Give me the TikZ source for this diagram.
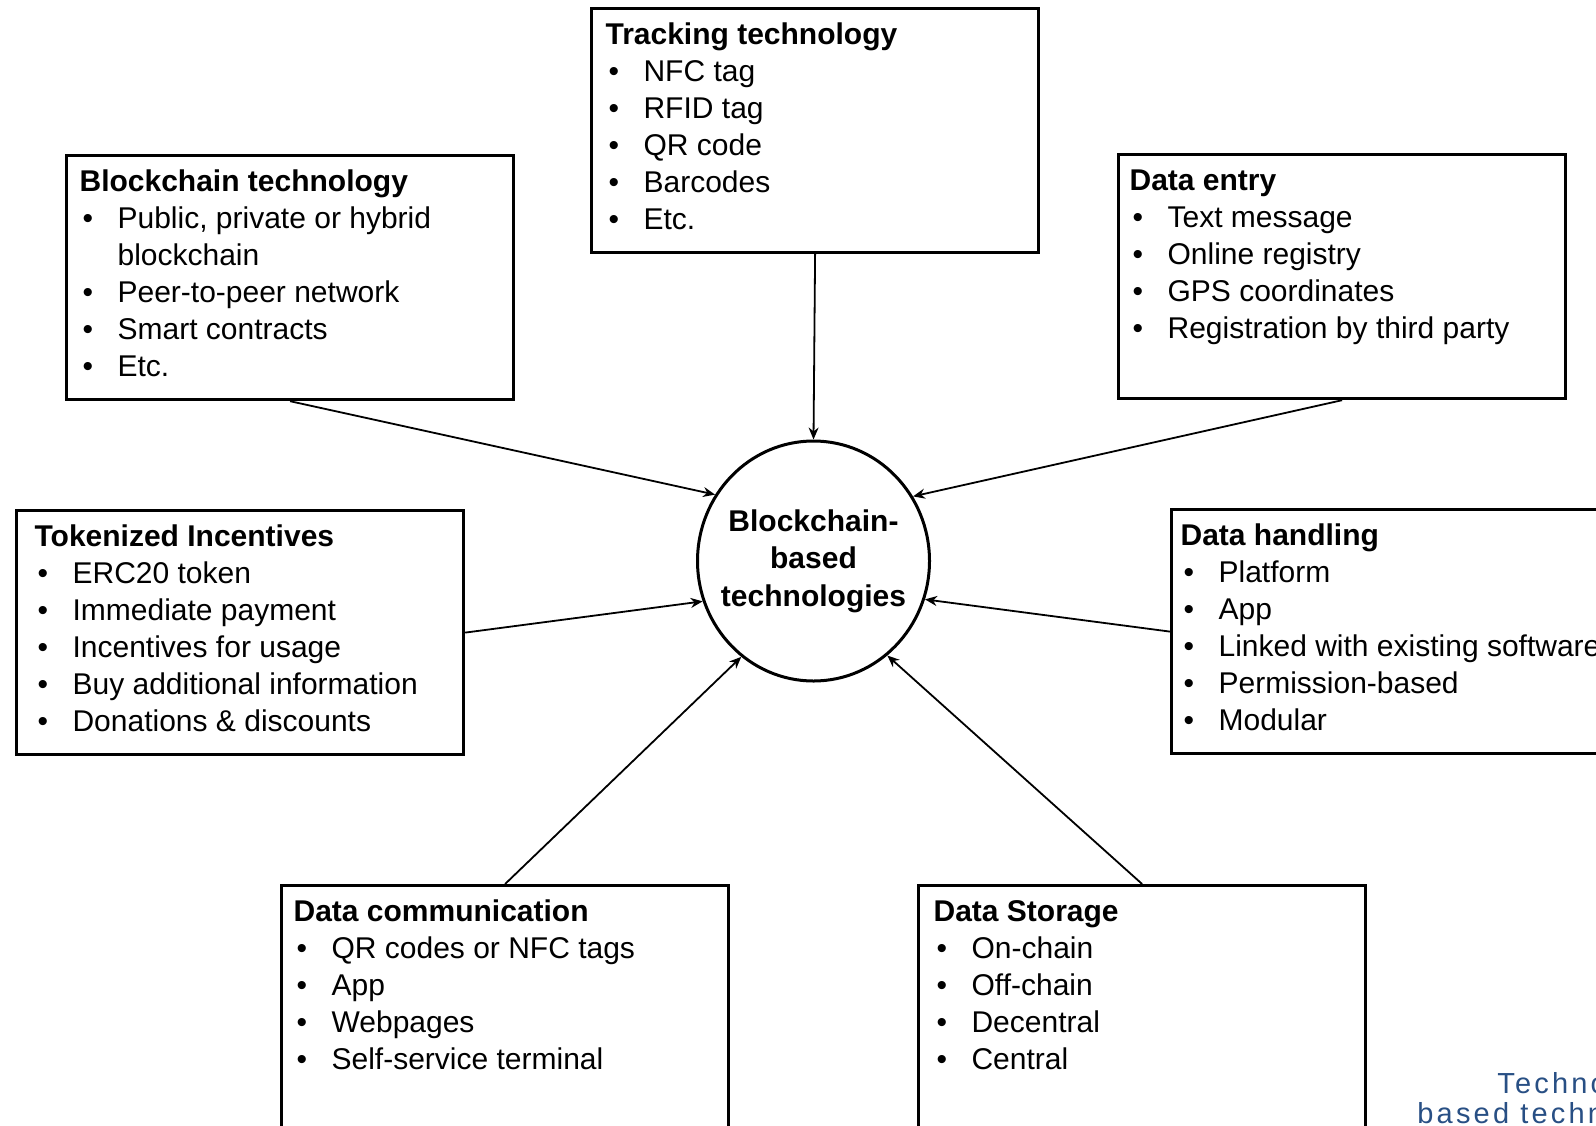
\documentclass[tikz,border=0pt]{standalone}
\usepackage{fontspec}
\setmainfont{Liberation Sans}
\newfontfamily\capfont[LetterSpace=11]{Liberation Sans}
\usetikzlibrary{shapes.geometric,arrows.meta}
\definecolor{capblue}{HTML}{284F84}

\tikzset{panel/.style={draw,line width=1.6pt,inner sep=0pt,anchor=north west,font=\fontsize{15}{18.5}\selectfont},
  hub/.style={draw,ellipse,line width=1.5pt,minimum width=116pt,minimum height=120pt,inner sep=-8pt,align=center,
    font=\bfseries\fontsize{15}{18.75}\selectfont},
  arr/.style={line width=0.9pt,-{Stealth[length=6pt,width=5pt]}},
  caption/.style={anchor=base west,inner sep=0pt,text=capblue,font=\capfont\fontsize{14.5}{18}\selectfont}}

\newcommand{\itm}{\\\makebox[19pt][l]{\hspace{1.5pt}\textbullet}}
\newcommand{\panel}[5][6.5pt]{\node[panel] (#2) at (#3)
  {\parbox[c][122pt][t]{223.5pt}{\leftskip=#1\rule{0pt}{18pt}\textbf{#4}#5}};}

\begin{document}
\begin{tikzpicture}[x=0.5pt,y=-0.5pt]
  \useasboundingbox (0,0) rectangle (1596,1125);
  \node[hub] (hub) at (813.5,561) {Blockchain-\\based\\technologies};
  % the seven boxes round the hub
  \panel[7pt]{track}{590,7}{Tracking technology}{\itm NFC tag\itm RFID tag\itm QR code\itm Barcodes\itm Etc.}
  \panel[6.5pt]{bt}{65,154}{Blockchain technology}{\itm Public, private or hybrid\\\hspace*{19pt}blockchain\itm Peer-to-peer network\itm Smart contracts\itm Etc.}
  \panel[5.5pt]{de}{1117,153}{Data entry}{\itm Text message\itm Online registry\itm GPS coordinates\itm Registration by third party}
  \panel[9pt]{ti}{15,509}{Tokenized Incentives}{\itm ERC20 token\itm Immediate payment\itm Incentives for usage\itm Buy additional information\itm Donations \& discounts}
  \panel[4.5pt]{dh}{1170,508}{Data handling}{\itm Platform\itm App\itm Linked with existing software\itm Permission-based\itm Modular}
  \panel[6pt]{dc}{280,884}{Data communication}{\itm QR codes or NFC tags\itm App\itm Webpages\itm Self-service terminal}
  \panel[7.5pt]{ds}{917,884}{Data Storage}{\itm On-chain\itm Off-chain\itm Decentral\itm Central}
  % connectors
  \draw[arr] (track.south) -- (hub.north);
  \draw[arr] (bt.south) -- (hub.146);
  \draw[arr] (de.south) -- (hub.33);
  \draw[arr] (ti.east) -- (hub.200);
  \draw[arr] (dh.west) -- (hub.341);
  \draw[arr] (dc.north) -- (hub.233);
  \draw[arr] (ds.north) -- (hub.308);
  % cut caption
  \node[caption] (capa) at (1497,1093) {Techno};
  \node[caption] (capb) at (1417,1123) {based techn};
\end{tikzpicture}
\end{document}
